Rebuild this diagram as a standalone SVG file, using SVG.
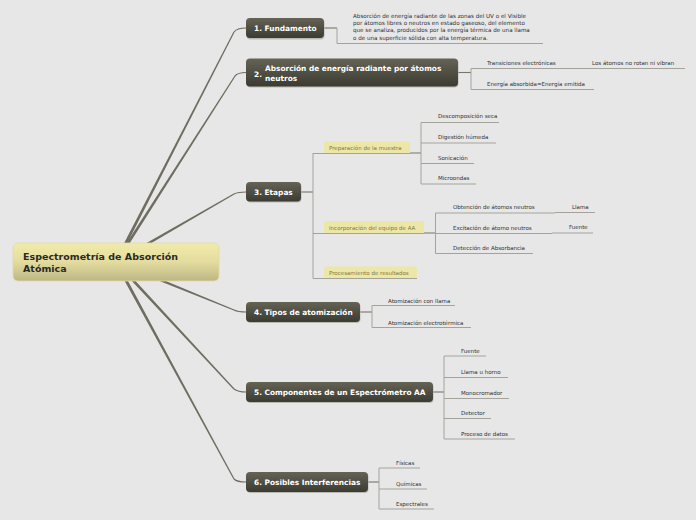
<svg xmlns="http://www.w3.org/2000/svg" width="696" height="520" viewBox="0 0 696 520">
<defs>
<linearGradient id="gRoot" x1="0" y1="0" x2="0" y2="1">
<stop offset="0" stop-color="#f1ebab"/>
<stop offset="0.5" stop-color="#e3dc9e"/>
<stop offset="1" stop-color="#bdb686"/>
</linearGradient>
<linearGradient id="gMain" x1="0" y1="0" x2="0" y2="1">
<stop offset="0" stop-color="#656355"/>
<stop offset="1" stop-color="#3c3b32"/>
</linearGradient>
<style>
.bg{fill:#e7e7e7}
.main rect.b{fill:url(#gMain)}
.main rect.s{fill:#b9b9b3}
.main text{font-family:"DejaVu Sans",Verdana,sans-serif;font-weight:bold;font-size:7.4px;fill:#ffffff}
.root text{font-family:"DejaVu Sans",Verdana,sans-serif;font-weight:bold;font-size:9.5px;fill:#2b2a22}
.t{font-family:"DejaVu Sans",Verdana,sans-serif;font-size:5.5px;fill:#2f2f2f}
.p{font-family:"DejaVu Sans",Verdana,sans-serif;font-size:5.6px;fill:#2f2f2f}
.lbl rect{fill:#ede7a7}
.lbl text{font-family:"DejaVu Sans",Verdana,sans-serif;font-size:5.5px;fill:#7d7747}
.big{fill:#6e6d60}
.bigc{fill:none;stroke:#6e6d60;stroke-width:1.2}
.c{fill:none;stroke:#77766a;stroke-width:1.1}
.u{fill:none;stroke:#a4a39b;stroke-width:1}
</style>
</defs>
<rect class="bg" x="0" y="0" width="696" height="520"/>

<g id="connectors">
<polygon class="big" points="117.33,262.68 234.53,32.27 233.47,31.73 114.67,261.32"/>
<path class="bigc" d="M234,32 Q237,28 246,28"/>
<polygon class="big" points="117.26,262.81 235.51,76.32 234.49,75.68 114.74,261.19"/>
<path class="bigc" d="M235,76 Q238,72.5 246,72.5"/>
<polygon class="big" points="116.75,263.3 234.3,194.52 233.7,193.48 115.25,260.7"/>
<path class="bigc" d="M234,194 Q238,192 246,192"/>
<polygon class="big" points="115.43,263.39 233.77,310.56 234.23,309.44 116.57,260.61"/>
<path class="bigc" d="M234,310 Q238,312 246,312"/>
<polygon class="big" points="114.9,263.02 233.56,389.41 234.44,388.59 117.1,260.98"/>
<path class="bigc" d="M234,389 Q238,392 246,392"/>
<polygon class="big" points="114.68,262.72 233.47,479.29 234.53,478.71 117.32,261.28"/>
<path class="bigc" d="M234,479 Q237,482 246,482"/>

<path class="c" d="M324,28 H337"/>
<path class="u" d="M337,28 V43.5 H543"/>

<path class="c" d="M458,72.5 H471"/>
<path class="u" d="M471,68.5 V89.5"/>
<path class="u" d="M471,68.5 H587 M587,68.5 H685 M471,89.5 H594"/>

<path class="c" d="M301,192 H313"/>
<path class="u" d="M313,153 V278.5"/>
<path class="u" d="M313,153.5 H410 M313,233.5 H424 M313,278.5 H417"/>
<path class="c" d="M410,153 H421 M424,233 H435.5"/>
<path class="u" d="M421,122.5 V184"/>
<path class="u" d="M421,122.5 H499 M421,143 H496 M421,163.5 H474 M421,184 H476"/>
<path class="u" d="M435.5,213 V253.5"/>
<path class="u" d="M435.5,213 H555 M555,212.5 H595 M435.5,233.5 H552 M552,233 H593 M435.5,253.5 H533"/>

<path class="c" d="M360,312 H372"/>
<path class="u" d="M372,305.5 V327.5 M372,305.5 H455 M372,327.5 H471"/>

<path class="c" d="M433,392 H444"/>
<path class="u" d="M444,356 V439 M444,356 H486 M444,377.5 H508 M444,398.5 H509 M444,418.5 H491 M444,439 H515"/>

<path class="c" d="M368,482 H379"/>
<path class="u" d="M379,468 V509 M379,468 H420 M379,489 H427 M379,509 H434"/>
</g>

<g id="root" class="root">
<rect x="13" y="243" width="206" height="38" rx="5" fill="url(#gRoot)" stroke="#e2dca2" stroke-width="0.8"/>
<text x="23" y="259.5">Espectrometría de Absorción</text>
<text x="23" y="271.5">Atómica</text>
</g>

<g id="n1" class="main">
<rect class="s" x="246.5" y="19" width="78" height="20.5" rx="4"/>
<rect class="b" x="246" y="18" width="78" height="20" rx="4"/>
<text x="254" y="31">1. Fundamento</text>
</g>
<g id="n1-text">
<text class="p" x="353" y="18.3">Absorción de energía radiante de las zonas del UV o el Visible</text>
<text class="p" x="353" y="25.3">por átomos libres o neutros en estado gaseoso, del elemento</text>
<text class="p" x="353" y="32.4">que se analiza, producidos por la energía térmica de una llama</text>
<text class="p" x="353" y="39.6">o de una superficie sólida con alta temperatura.</text>
</g>

<g id="n2" class="main">
<rect class="s" x="246.5" y="59" width="212" height="28.5" rx="4"/>
<rect class="b" x="246" y="58.5" width="212" height="28" rx="4"/>
<text x="254" y="77">2.</text>
<text x="265" y="71">Absorción de energía radiante por átomos</text>
<text x="265" y="80.5">neutros</text>
</g>
<g id="n2-children">
<text class="t" x="487" y="65">Transiciones electrónicas</text>
<text class="t" x="592" y="65">Los átomos no rotan ni vibran</text>
<text class="t" x="487" y="86">Energía absorbida=Energía emitida</text>
</g>

<g id="n3" class="main">
<rect class="s" x="246.5" y="183" width="55" height="19.5" rx="4"/>
<rect class="b" x="246" y="182" width="55" height="19.5" rx="4"/>
<text x="254" y="195">3. Etapas</text>
</g>
<g id="n3-prep" class="lbl">
<rect x="324" y="141.5" width="86" height="11.5" rx="2"/>
<text x="329" y="149.5">Preparación de la muestra</text>
</g>
<g id="n3-prep-children">
<text class="t" x="438" y="118">Descomposición seca</text>
<text class="t" x="438" y="139">Digestión húmeda</text>
<text class="t" x="438" y="159.5">Sonicación</text>
<text class="t" x="438" y="180">Microondas</text>
</g>
<g id="n3-inc" class="lbl">
<rect x="324" y="221" width="100" height="12" rx="2"/>
<text x="329" y="229.5">Incorporación del equipo de AA</text>
</g>
<g id="n3-inc-children">
<text class="t" x="453" y="209">Obtención de átomos neutros</text>
<text class="t" x="572" y="209">Llama</text>
<text class="t" x="453" y="230">Excitación de átomo neutros</text>
<text class="t" x="569" y="229">Fuente</text>
<text class="t" x="453" y="250">Detección de Absorbancia</text>
</g>
<g id="n3-proc" class="lbl">
<rect x="324" y="266.5" width="93" height="11.5" rx="2"/>
<text x="329" y="274.5">Procesamiento de resultados</text>
</g>

<g id="n4" class="main">
<rect class="s" x="246.5" y="303" width="114" height="20" rx="4"/>
<rect class="b" x="246" y="302" width="114" height="20" rx="4"/>
<text x="254" y="315">4. Tipos de atomización</text>
</g>
<g id="n4-children">
<text class="t" x="388" y="302.8">Atomización con llama</text>
<text class="t" x="388" y="324.5">Atomización electrotérmica</text>
</g>

<g id="n5" class="main">
<rect class="s" x="246.5" y="383" width="187" height="20" rx="4"/>
<rect class="b" x="246" y="382" width="187" height="20" rx="4"/>
<text x="254" y="395">5. Componentes de un Espectrómetro AA</text>
</g>
<g id="n5-children">
<text class="t" x="461" y="353">Fuente</text>
<text class="t" x="461" y="374">Llama u horno</text>
<text class="t" x="461" y="395">Monocromador</text>
<text class="t" x="461" y="415">Detector</text>
<text class="t" x="461" y="435.5">Proceso de datos</text>
</g>

<g id="n6" class="main">
<rect class="s" x="246.5" y="473" width="122" height="20" rx="4"/>
<rect class="b" x="246" y="472" width="122" height="20" rx="4"/>
<text x="254" y="485">6. Posibles Interferencias</text>
</g>
<g id="n6-children">
<text class="t" x="396" y="464.5">Físicas</text>
<text class="t" x="396" y="485.5">Químicas</text>
<text class="t" x="396" y="505.5">Espectrales</text>
</g>
</svg>
